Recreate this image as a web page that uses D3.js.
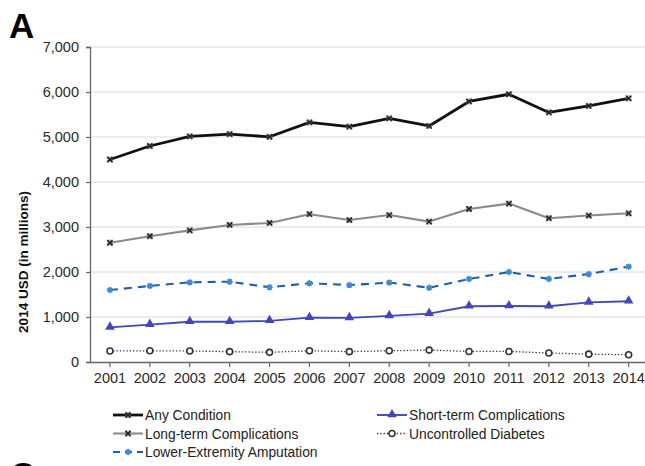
<!DOCTYPE html>
<html>
<head>
<meta charset="utf-8">
<script src="https://cdn.jsdelivr.net/npm/d3@7"></script>
<style>
  html, body { margin: 0; padding: 0; background: #fff; }
  svg { display: block; font-family: "Liberation Sans", Arial, sans-serif; }
</style>
</head>
<body>
<svg id="chart" width="645" height="466"></svg>
<script>
// Annual inpatient costs, 2014 USD (in millions)
const years = ["2001","2002","2003","2004","2005","2006","2007","2008","2009","2010","2011","2012","2013","2014"];
const yTicks = [0, 1000, 2000, 3000, 4000, 5000, 6000, 7000];

const anyCondition   = [4500, 4800, 5015, 5065, 5005, 5325, 5230, 5415, 5245, 5790, 5950, 5545, 5690, 5860];
const longTerm       = [2650, 2795, 2925, 3045, 3090, 3285, 3155, 3265, 3120, 3400, 3520, 3195, 3255, 3305];
const amputation     = [1600, 1690, 1770, 1785, 1660, 1750, 1710, 1765, 1650, 1845, 2000, 1845, 1955, 2120];
const shortTerm      = [770, 830, 895, 895, 915, 985, 980, 1025, 1075, 1240, 1245, 1240, 1325, 1350];
const uncontrolled   = [245, 250, 245, 230, 215, 250, 230, 250, 265, 235, 235, 200, 175, 160];

const series = [
  { name: "Any Condition", values: anyCondition, color: "#111", width: 2.8, dash: null, marker: "x", mcolor: "#222" },
  { name: "Long-term Complications", values: longTerm, color: "#8a8a8a", width: 2.1, dash: null, marker: "x", mcolor: "#222" },
  { name: "Lower-Extremity Amputation", values: amputation, color: "#1f5fa8", width: 2.1, dash: "8,6", marker: "star", mcolor: "#3d8ad6" },
  { name: "Short-term Complications", values: shortTerm, color: "#4447b9", width: 1.9, dash: null, marker: "tri", mcolor: "#4447b9" },
  { name: "Uncontrolled Diabetes", values: uncontrolled, color: "#333", width: 1.3, dash: "1.3,2", marker: "circle", mcolor: "#333" }
];

const svg = d3.select("#chart");

const x = d3.scaleBand().domain(years).range([90, 648.6]).paddingInner(0).paddingOuter(0);
const y = d3.scaleLinear().domain([0, 7000]).range([362, 47]);
const cx = d => x(d) + x.bandwidth() / 2;

// gridlines
svg.append("g")
  .selectAll("line")
  .data(yTicks.filter(t => t > 0))
  .join("line")
  .attr("x1", 90).attr("x2", 645)
  .attr("y1", d => y(d)).attr("y2", d => y(d))
  .attr("stroke", "#d9d9d9").attr("stroke-width", 1.2);

// y axis
const yAxis = svg.append("g")
  .attr("transform", "translate(90,0)")
  .call(d3.axisLeft(y).tickValues(yTicks).tickSize(4).tickPadding(7).tickFormat(d3.format(",")));
yAxis.attr("font-size", 14.5).attr("font-family", "Liberation Sans, Arial, sans-serif");
yAxis.select(".domain").attr("stroke", "#666").attr("stroke-width", 1.3);
yAxis.selectAll(".tick line").attr("stroke", "#666").attr("stroke-width", 1.2);
yAxis.selectAll(".tick text").attr("fill", "#2a2a2a");

// x axis
const xAxis = svg.append("g")
  .attr("transform", "translate(0,362)")
  .call(d3.axisBottom(x).tickSize(5).tickPadding(6).tickSizeOuter(0));
xAxis.attr("font-size", 14.5).attr("font-family", "Liberation Sans, Arial, sans-serif");
xAxis.select(".domain").attr("stroke", "#666").attr("stroke-width", 1.3);
xAxis.selectAll(".tick line").attr("stroke", "#666").attr("stroke-width", 1.2);
xAxis.selectAll(".tick text").attr("fill", "#2a2a2a");

// axis title
svg.append("text")
  .attr("transform", "translate(28,262) rotate(-90)")
  .attr("text-anchor", "middle")
  .attr("font-size", 13.5).attr("font-weight", "bold").attr("fill", "#111")
  .text("2014 USD (in millions)");

// panel letters
svg.append("text").attr("x", 9).attr("y", 38)
  .attr("font-size", 35).attr("font-weight", "bold").attr("fill", "#000").text("A");
svg.append("text").attr("x", 10).attr("y", 487)
  .attr("font-size", 35).attr("font-weight", "bold").attr("fill", "#000").text("C");

function drawMarker(g, type, px, py, s) {
  if (type === "x") {
    g.append("rect").attr("x", px - 3).attr("y", py - 3).attr("width", 6).attr("height", 6)
      .attr("fill", "#777").attr("opacity", 0.5);
    g.append("path").attr("d", `M${px-2.6},${py-2.6}L${px+2.6},${py+2.6}M${px-2.6},${py+2.6}L${px+2.6},${py-2.6}`)
      .attr("stroke", s.mcolor).attr("stroke-width", 1.5);
  } else if (type === "star") {
    const r = 3.2, d = r * 0.72;
    g.append("path")
      .attr("d", `M${px-r},${py}L${px+r},${py}M${px},${py-r}L${px},${py+r}` +
                 `M${px-d},${py-d}L${px+d},${py+d}M${px-d},${py+d}L${px+d},${py-d}`)
      .attr("stroke", s.mcolor).attr("stroke-width", 1.6).attr("fill", "none");
  } else if (type === "tri") {
    g.append("path").attr("d", d3.symbol(d3.symbolTriangle, 40)())
      .attr("transform", `translate(${px},${py - 0.5})`).attr("fill", s.mcolor);
  } else if (type === "circle") {
    g.append("circle").attr("cx", px).attr("cy", py).attr("r", 3)
      .attr("fill", "#fff").attr("stroke", s.mcolor).attr("stroke-width", 1.6);
  }
}

const line = d3.line().x(d => cx(d.year)).y(d => y(d.v));

series.forEach(s => {
  const pts = years.map((yr, i) => ({ year: yr, v: s.values[i] }));
  const g = svg.append("g");
  g.append("path").datum(pts)
    .attr("d", line).attr("fill", "none")
    .attr("stroke", s.color).attr("stroke-width", s.width)
    .attr("stroke-dasharray", s.dash)
    .attr("stroke-linejoin", "round");
  pts.forEach(p => drawMarker(g, s.marker, cx(p.year), y(p.v), s));
});

// legend
const legendPos = [
  { s: 0, x: 113, y: 415 },
  { s: 1, x: 113, y: 433.5 },
  { s: 2, x: 113, y: 452 },
  { s: 3, x: 377, y: 415 },
  { s: 4, x: 377, y: 433.5 }
];
legendPos.forEach(p => {
  const s = series[p.s];
  const g = svg.append("g");
  g.append("line").attr("x1", p.x).attr("x2", p.x + 30).attr("y1", p.y).attr("y2", p.y)
    .attr("stroke", s.color).attr("stroke-width", s.width)
    .attr("stroke-dasharray", s.dash ? (s.marker === "star" ? "7,5" : s.dash) : null);
  drawMarker(g, s.marker, p.x + 15, p.y, s);
  g.append("text").attr("x", p.x + 32).attr("y", p.y + 5)
    .attr("font-size", 13.8).attr("fill", "#222").text(s.name);
});
</script>
</body>
</html>
